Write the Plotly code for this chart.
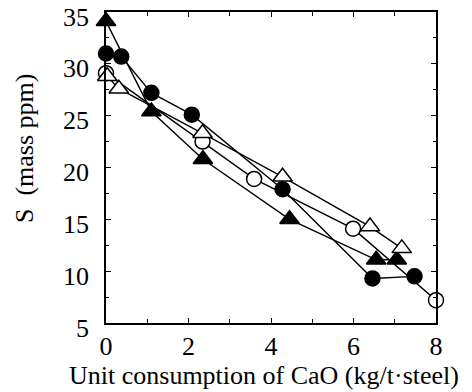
import plotly.graph_objects as go

# Filled triangles
ft_x = [0.0, 1.1, 2.35, 4.45, 6.55, 7.05]
ft_y = [34.1, 25.4, 20.8, 15.0, 11.1, 11.1]
# Filled circles
fc_x = [0.0, 0.37, 1.1, 2.08, 4.28, 6.46, 7.48]
fc_y = [31.0, 30.7, 27.2, 25.1, 17.9, 9.3, 9.5]
# Open circles
oc_x = [0.0, 2.34, 3.59, 5.99, 8.0]
oc_y = [29.1, 22.5, 18.9, 14.1, 7.2]
# Open triangles
ot_x = [0.03, 0.31, 2.34, 4.28, 6.4, 7.17]
ot_y = [28.8, 27.6, 23.3, 19.1, 14.3, 12.2]

x_ticks = [0, 2, 4, 6, 8]
y_ticks = [5, 10, 15, 20, 25, 30, 35]
y_ticklabels = ["5", "10", "15", "20", "25", "30", "35"]

FONT = "Liberation Serif"
TICKFONT = dict(family=FONT, size=26, color="black")

series = [
    (fc_x, fc_y, "circle", "black"),
    (oc_x, oc_y, "circle", "white"),
    (ft_x, ft_y, "triangle-up", "black"),
    (ot_x, ot_y, "triangle-up", "white"),
]

fig = go.Figure()
for xs, ys, sym, fill in series:
    fig.add_trace(go.Scatter(x=xs, y=ys, mode="lines",
                             line=dict(color="black", width=1.4),
                             showlegend=False, cliponaxis=False))
for xs, ys, sym, fill in series:
    fig.add_trace(go.Scatter(x=xs, y=ys, mode="markers",
                             marker=dict(symbol=sym, size=15 if sym == "circle" else 17,
                                         color=fill,
                                         line=dict(color="black", width=1.5)),
                             showlegend=False, cliponaxis=False))

fig.update_xaxes(range=[0, 8], tickvals=x_ticks, ticktext=[str(v) for v in x_ticks],
                 showline=True, linecolor="black", linewidth=2, mirror="ticks",
                 ticks="inside", ticklen=5, tickwidth=1.2, tickcolor="black",
                 showgrid=False, zeroline=False, automargin=False,
                 tickfont=TICKFONT, ticklabelstandoff=-1, ticklabeloverflow="allow",
                 minor=dict(dtick=1, ticks="inside", ticklen=4, tickcolor="black"))
# y tick marks on the axis; their labels are placed just below each tick (as in the reference)
fig.update_yaxes(range=[5, 35], tickvals=y_ticks, showticklabels=False,
                 showline=True, linecolor="black", linewidth=2, mirror="ticks",
                 ticks="inside", ticklen=5, tickwidth=1.2, tickcolor="black",
                 showgrid=False, zeroline=False, automargin=False,
                 minor=dict(dtick=2.5, ticks="inside", ticklen=3, tickcolor="black"))
for v, lab in zip(y_ticks, y_ticklabels):
    fig.add_annotation(text=lab, xref="paper", yref="y", x=0, y=v,
                       xanchor="right", yanchor="middle", xshift=-15, yshift=-5,
                       showarrow=False, font=TICKFONT)

fig.add_annotation(text="Unit consumption of CaO (kg/t\u00b7steel)",
                   xref="paper", yref="paper", x=-0.118, y=-0.17,
                   xanchor="left", yanchor="middle", showarrow=False,
                   font=dict(family=FONT, size=26, color="black"))
fig.add_annotation(text="S  (mass ppm)", textangle=-90,
                   xref="paper", yref="paper", x=-0.245, y=0.563,
                   xanchor="center", yanchor="middle", showarrow=False,
                   font=dict(family=FONT, size=26, color="black"))

# page body adds an 8px offset; margins compensate so the plot box lands at 106..436 x 12..323
fig.update_layout(width=464, height=384, paper_bgcolor="white", plot_bgcolor="white",
                  margin=dict(l=98, r=36, t=4, b=69))

fig.write_html("out.html")
